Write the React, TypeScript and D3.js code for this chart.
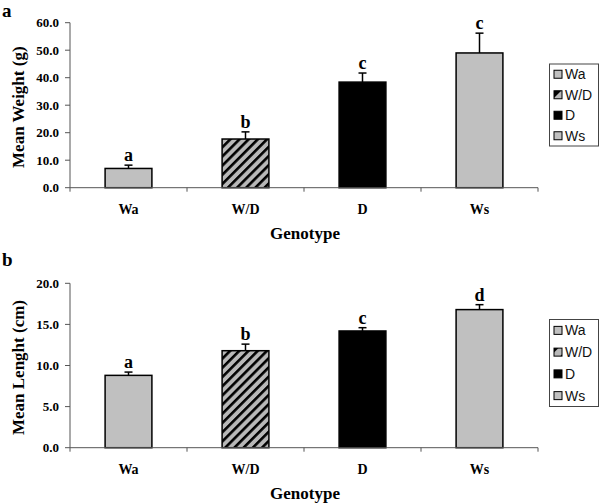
import React from "react";
import * as d3 from "d3";

const categories = ["Wa", "W/D", "D", "Ws"];
const weightMeans = [7.0, 17.7, 38.4, 49.0];
const weightErrors = [1.2, 2.6, 3.3, 7.2];
const weightLetters = ["a", "b", "c", "c"];
const weightTicks = [0, 10, 20, 30, 40, 50, 60];

const lengthMeans = [8.8, 11.8, 14.2, 16.8];
const lengthErrors = [0.4, 0.8, 0.4, 0.6];
const lengthLetters = ["a", "b", "c", "d"];
const lengthTicks = [0, 5, 10, 15, 20];

const fills = ["#c0c0c0", "url(#hatch)", "#000000", "#c0c0c0"];
const serif = "'Liberation Serif', 'Times New Roman', serif";
const sans = "'Liberation Sans', Arial, sans-serif";

type PanelProps = {
  tag: string;
  yLabel: string;
  means: number[];
  errors: number[];
  letters: string[];
  ticks: number[];
  top: number;
  bottom: number;
  tagY: number;
  legendTop: number;
  legendBottom: number;
};

function Panel(p: PanelProps) {
  const x0 = 70;
  const x1 = 538;
  const x = d3.scaleBand<string>().domain(categories).range([x0, x1]).paddingInner(0.6).paddingOuter(0.3);
  const step = x.step();
  const y = d3.scaleLinear().domain([0, p.ticks[p.ticks.length - 1]]).range([p.bottom, p.top]);
  const boundaries = d3.range(categories.length + 1).map((i) => x0 + i * step);
  const legendH = p.legendBottom - p.legendTop;
  const itemStep = legendH / 4;
  return (
    <g>
      <text x={2} y={p.tagY} fontFamily={serif} fontWeight="bold" fontSize={19}>{p.tag}</text>
      {/* y axis */}
      <line x1={x0} x2={x0} y1={p.top} y2={p.bottom} stroke="#555" strokeWidth={1} />
      {p.ticks.map((t) => (
        <g key={t}>
          <line x1={x0 - 5} x2={x0} y1={y(t)} y2={y(t)} stroke="#555" />
          <text x={59} y={y(t) + 4.5} textAnchor="end" fontFamily={serif} fontWeight="bold" fontSize={13}>
            {t.toFixed(1)}
          </text>
        </g>
      ))}
      <text
        transform={`translate(24,${(p.top + p.bottom) / 2 + 2}) rotate(-90)`}
        textAnchor="middle"
        fontFamily={serif}
        fontWeight="bold"
        fontSize={17}
      >
        {p.yLabel}
      </text>
      {/* bars */}
      {categories.map((c, i) => {
        const bx = x(c)!;
        const bw = x.bandwidth();
        const cx = bx + bw / 2;
        const yTop = y(p.means[i]);
        const yErr = y(p.means[i] + p.errors[i]);
        return (
          <g key={c}>
            <rect x={bx} y={yTop} width={bw} height={p.bottom - yTop} fill={fills[i]} stroke="#000" strokeWidth={1.5} />
            <line x1={cx} x2={cx} y1={yTop} y2={yErr} stroke="#000" strokeWidth={1.5} />
            <line x1={cx - 4} x2={cx + 4} y1={yErr} y2={yErr} stroke="#000" strokeWidth={1.5} />
            <text x={cx} y={yErr - 4} textAnchor="middle" fontFamily={serif} fontWeight="bold" fontSize={18}>
              {p.letters[i]}
            </text>
            <text x={cx} y={p.bottom + 26} textAnchor="middle" fontFamily={serif} fontWeight="bold" fontSize={14}>
              {c}
            </text>
          </g>
        );
      })}
      {/* x axis */}
      <line x1={x0} x2={x1} y1={p.bottom} y2={p.bottom} stroke="#555" strokeWidth={1} />
      {boundaries.map((b, i) => (
        <line key={i} x1={b} x2={b} y1={p.bottom} y2={p.bottom + 4} stroke="#555" />
      ))}
      <text x={305} y={p.bottom + 51} textAnchor="middle" fontFamily={serif} fontWeight="bold" fontSize={17}>
        Genotype
      </text>
      {/* legend */}
      <rect x={549.5} y={p.legendTop} width={49} height={legendH} fill="#fff" stroke="#444" strokeWidth={1} />
      {categories.map((c, i) => {
        const cy = p.legendTop + itemStep * (i + 0.5);
        return (
          <g key={c}>
            <rect x={554} y={cy - 4} width={8} height={8} fill={i === 1 ? "url(#hatchSmall)" : fills[i]} stroke="#000" strokeWidth={1} />
            <text x={565} y={cy + 5} fontFamily={sans} fontSize={14} fill="#111">{c}</text>
          </g>
        );
      })}
    </g>
  );
}

export default function App() {
  return (
    <svg width={600} height={504} style={{ position: "absolute", left: 0, top: 0, background: "#fff" }}>
      <defs>
        <pattern id="hatch" patternUnits="userSpaceOnUse" width={6.5} height={6.5} patternTransform="rotate(45)">
          <rect width={6.5} height={6.5} fill="#b8b8b8" />
          <rect width={2.6} height={6.5} fill="#000" />
        </pattern>
        <pattern id="hatchSmall" patternUnits="userSpaceOnUse" width={12} height={12} patternTransform="rotate(45)">
          <rect width={12} height={12} fill="#b8b8b8" />
          <rect width={5} height={12} fill="#000" />
        </pattern>
      </defs>
      <rect width={600} height={504} fill="#fff" />
      <Panel
        tag="a"
        yLabel="Mean Weight (g)"
        means={weightMeans}
        errors={weightErrors}
        letters={weightLetters}
        ticks={weightTicks}
        top={22.7}
        bottom={187.7}
        tagY={17}
        legendTop={64}
        legendBottom={146}
      />
      <Panel
        tag="b"
        yLabel="Mean Lenght (cm)"
        means={lengthMeans}
        errors={lengthErrors}
        letters={lengthLetters}
        ticks={lengthTicks}
        top={283.3}
        bottom={447.7}
        tagY={266}
        legendTop={319.5}
        legendBottom={406.5}
      />
    </svg>
  );
}
